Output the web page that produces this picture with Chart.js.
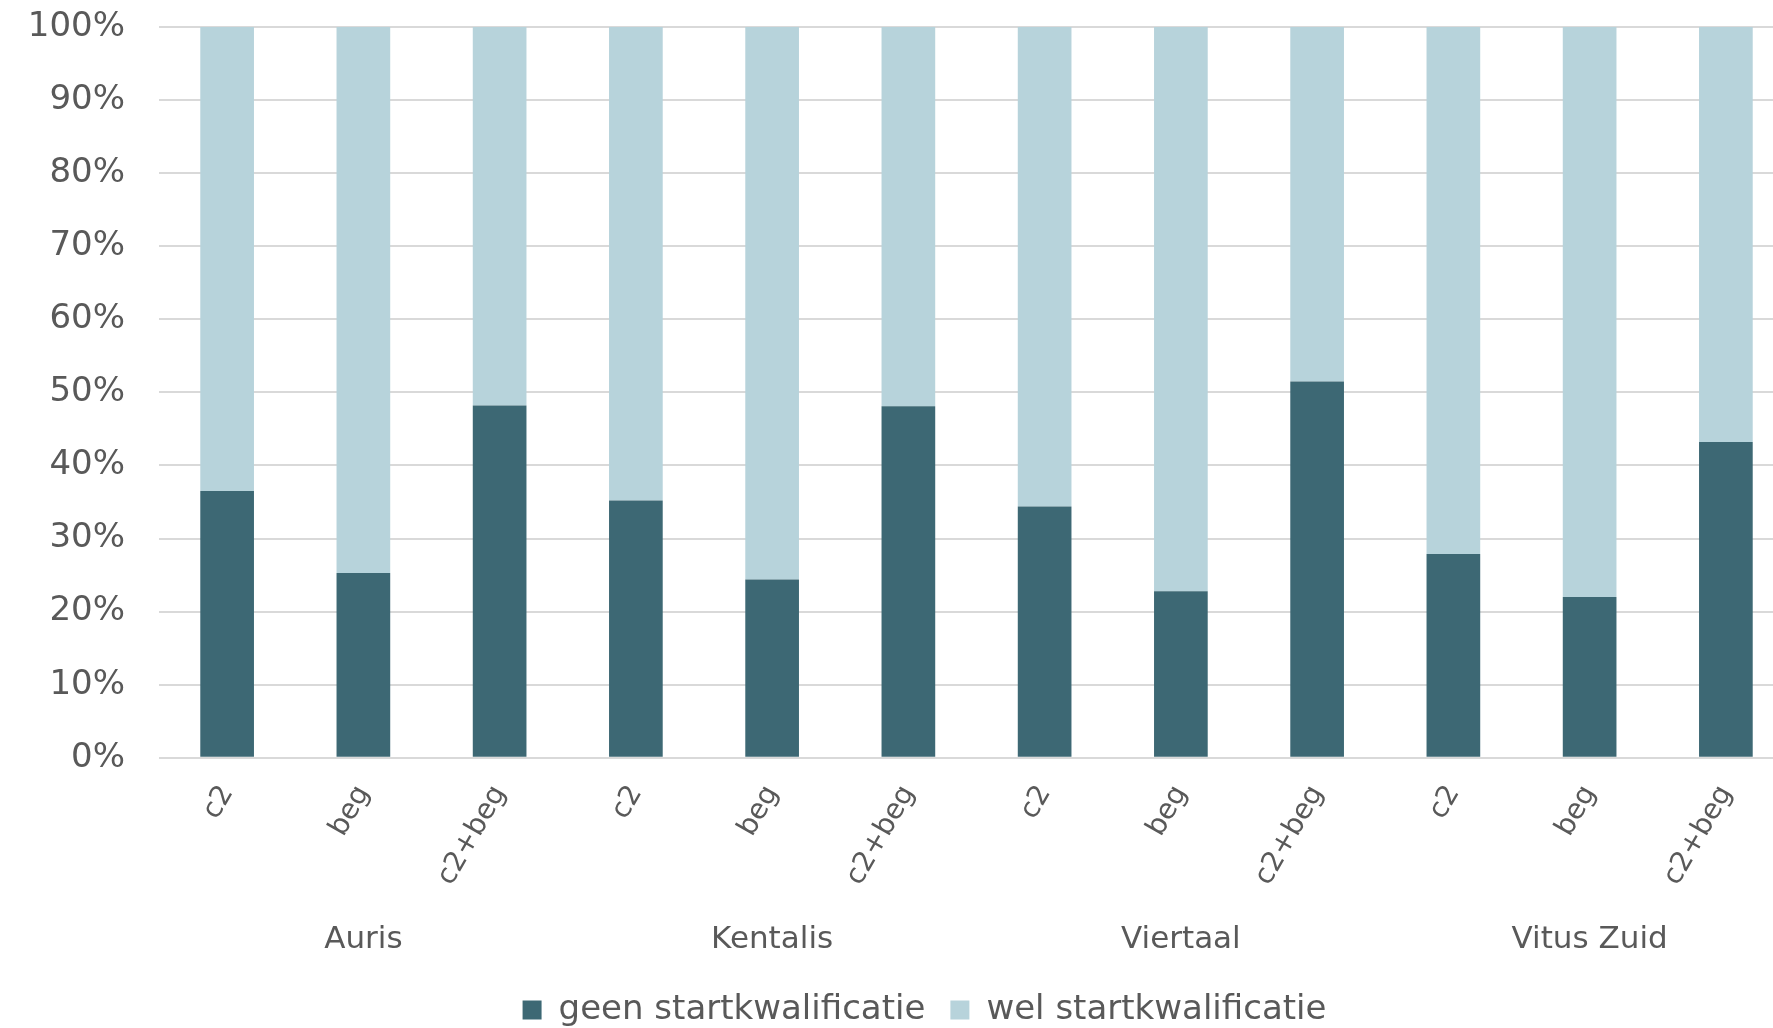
<!DOCTYPE html>
<html>
<head>
<meta charset="utf-8">
<script src="https://cdn.jsdelivr.net/npm/chart.js@4"></script>
<style>
html, body { margin: 0; padding: 0; overflow: hidden; background: #ffffff; width: 1773px; height: 1028px; }
#wrap { position: absolute; left: 0; top: 0; width: 1849px; height: 1037px; }
</style>
</head>
<body>
<div id="wrap"><canvas id="c" width="1849" height="1037"></canvas></div>
<script>
const categories = ['c2', 'beg', 'c2+beg', 'c2', 'beg', 'c2+beg', 'c2', 'beg', 'c2+beg', 'c2', 'beg', 'c2+beg'];
const groups = ['Auris', 'Kentalis', 'Viertaal', 'Vitus Zuid'];
const geenStartkwalificatie = [36.5, 25.3, 48.2, 35.2, 24.4, 48.1, 34.4, 22.8, 51.5, 27.9, 22.0, 43.2];
const welStartkwalificatie = [63.5, 74.7, 51.8, 64.8, 75.6, 51.9, 65.6, 77.2, 48.5, 72.1, 78.0, 56.8];
const seriesNames = ['geen startkwalificatie', 'wel startkwalificatie'];
const yMin = 0, yMax = 100, yStep = 10;

const textColor = '#595959';
const font = 'DejaVu Sans';

new Chart(document.getElementById('c'), {
  type: 'bar',
  data: {
    labels: categories,
    datasets: [
      { label: seriesNames[0], data: geenStartkwalificatie, backgroundColor: '#3d6874', borderWidth: 0 },
      { label: seriesNames[1], data: welStartkwalificatie, backgroundColor: '#b7d3db', borderWidth: 0 }
    ]
  },
  options: {
    responsive: false,
    devicePixelRatio: 1,
    animation: false,
    layout: { padding: { left: 0, right: 0, top: 27, bottom: 0 } },
    datasets: { bar: { categoryPercentage: 1.0, barPercentage: 0.394 } },
    plugins: {
      legend: {
        position: 'bottom',
        labels: {
          font: { family: font, size: 34 },
          color: textColor,
          boxWidth: 19,
          boxHeight: 19,
          padding: 25
        }
      },
      tooltip: { enabled: false }
    },
    scales: {
      x: {
        stacked: true,
        offset: true,
        grid: { display: false },
        border: { display: false },
        afterFit: (s) => { s.paddingLeft = 0; s.paddingRight = 55; s.height = 155; },
        ticks: {
          font: { family: font, size: 28 },
          color: textColor,
          maxRotation: 60,
          minRotation: 60,
          padding: 14,
          autoSkip: false
        }
      },
      x2: {
        type: 'category',
        labels: groups,
        position: 'bottom',
        offset: true,
        grid: { display: false, drawTicks: false },
        border: { display: false },
        afterFit: (s) => { s.paddingLeft = 0; s.paddingRight = 55; },
        ticks: {
          font: { family: font, size: 31 },
          color: textColor,
          maxRotation: 0,
          minRotation: 0,
          padding: 9
        }
      },
      y: {
        stacked: true,
        min: yMin,
        max: yMax,
        grid: { color: '#d9d9d9', lineWidth: 2, drawTicks: false },
        border: { display: false },
        afterFit: (s) => { s.paddingTop = 0; s.width = 159; },
        ticks: {
          stepSize: yStep,
          font: { family: font, size: 34 },
          color: textColor,
          padding: 34,
          callback: (v) => v + '%'
        }
      }
    }
  }
});
</script>
</body>
</html>
